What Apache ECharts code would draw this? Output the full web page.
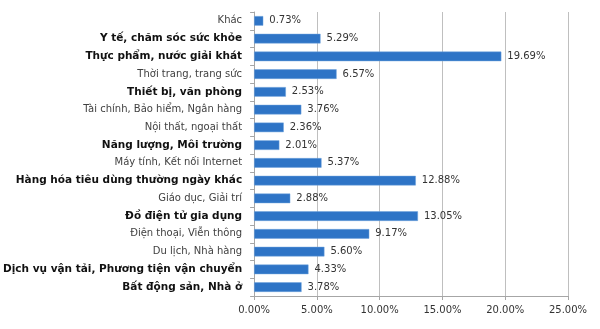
<!DOCTYPE html>
<html>
<head>
<meta charset="utf-8">
<script src="https://cdn.jsdelivr.net/npm/echarts@6/dist/echarts.min.js"></script>
<style>
  html, body { margin: 0; padding: 0; background: #fff; }
  #main { width: 600px; height: 329px; }
</style>
</head>
<body>
<div id="main"></div>
<script>
var categories = [
  'Khác',
  'Y tế, chăm sóc sức khỏe',
  'Thực phẩm, nước giải khát',
  'Thời trang, trang sức',
  'Thiết bị, văn phòng',
  'Tài chính, Bảo hiểm, Ngân hàng',
  'Nội thất, ngoại thất',
  'Năng lượng, Môi trường',
  'Máy tính, Kết nối Internet',
  'Hàng hóa tiêu dùng thường ngày khác',
  'Giáo dục, Giải trí',
  'Đồ điện tử gia dụng',
  'Điện thoại, Viễn thông',
  'Du lịch, Nhà hàng',
  'Dịch vụ vận tải, Phương tiện vận chuyển',
  'Bất động sản, Nhà ở'
];
var values = [0.73, 5.29, 19.69, 6.57, 2.53, 3.76, 2.36, 2.01, 5.37, 12.88, 2.88, 13.05, 9.17, 5.60, 4.33, 3.78];
// nhãn in đậm
var boldCats = [
  'Y tế, chăm sóc sức khỏe',
  'Thực phẩm, nước giải khát',
  'Thiết bị, văn phòng',
  'Năng lượng, Môi trường',
  'Hàng hóa tiêu dùng thường ngày khác',
  'Đồ điện tử gia dụng',
  'Dịch vụ vận tải, Phương tiện vận chuyển',
  'Bất động sản, Nhà ở'
];

var chart = echarts.init(document.getElementById('main'));
chart.setOption({
  animation: false,
  textStyle: { fontFamily: 'DejaVu Sans' },
  grid: {
    left: 252,
    right: 32,
    top: 12,
    bottom: 33,
    containLabel: false
  },
  xAxis: {
    type: 'value',
    min: 0,
    max: 25,
    interval: 5,
    axisLine: { show: true, lineStyle: { color: '#a6a6a6' } },
    axisTick: { show: true, length: 4, lineStyle: { color: '#a6a6a6' } },
    axisLabel: {
      color: '#333',
      fontSize: 10,
      margin: 9,
      formatter: function (v) { return v.toFixed(2) + '%'; }
    },
    splitLine: { show: true, lineStyle: { color: '#bfbfbf' } }
  },
  yAxis: {
    type: 'category',
    inverse: true,
    data: categories,
    axisLine: { show: true, lineStyle: { color: '#a6a6a6' } },
    axisTick: { show: true, length: 4, lineStyle: { color: '#a6a6a6' } },
    axisLabel: {
      margin: 12,
      formatter: function (v) {
        return boldCats.indexOf(v) >= 0 ? '{b|' + v + '}' : '{n|' + v + '}';
      },
      rich: {
        n: { color: '#404040', fontSize: 10, fontFamily: 'DejaVu Sans' },
        b: { color: '#111', fontSize: 10.5, fontWeight: 'bold', fontFamily: 'DejaVu Sans' }
      }
    }
  },
  series: [
    {
      type: 'bar',
      data: values,
      barCategoryGap: '46%',
      itemStyle: {
        color: '#2e74c6',
        borderColor: '#6fa3dc',
        borderWidth: 0.5
      },
      label: {
        show: true,
        position: 'right',
        distance: 6,
        color: '#333',
        fontSize: 10,
        formatter: function (p) { return p.value.toFixed(2) + '%'; }
      }
    }
  ]
});
</script>
</body>
</html>
